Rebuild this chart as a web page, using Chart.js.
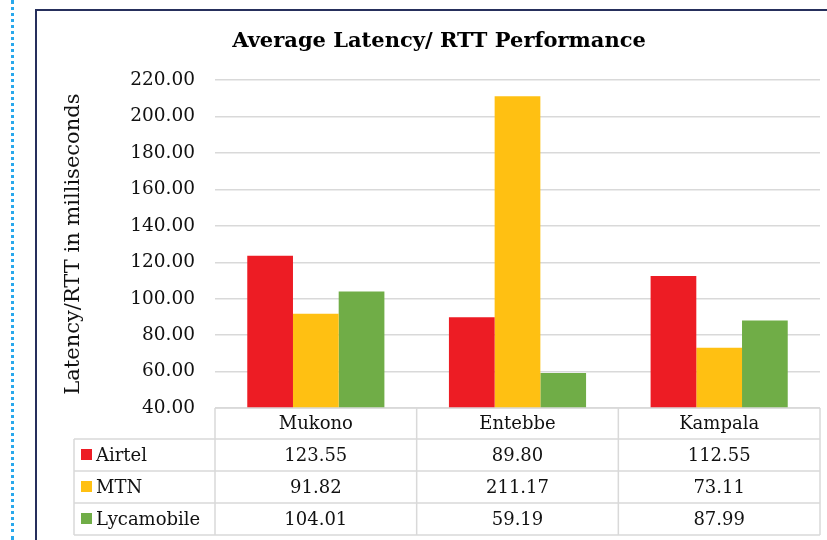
<!DOCTYPE html>
<html>
<head>
<meta charset="utf-8">
<script src="https://cdn.jsdelivr.net/npm/chart.js@4.4.0/dist/chart.umd.min.js"></script>
<style>
  html, body { margin: 0; padding: 0; background: #fff; }
  #wrap { position: relative; width: 827px; height: 540px; overflow: hidden; }
  #dots { position: absolute; left: 11px; top: 0; height: 540px; border-left: 3px dotted #29A8EC; }
  #frame { position: absolute; left: 35px; top: 9px; width: 900px; height: 600px; border-left: 2px solid #262F5C; border-top: 2px solid #262F5C; }
  canvas { position: absolute; left: 0; top: 0; }
</style>
</head>
<body>
<div id="wrap">
  <div id="dots"></div>
  <div id="frame"></div>
  <canvas id="c" width="827" height="540"></canvas>
</div>
<script>
const categories = ["Mukono", "Entebbe", "Kampala"];
const seriesNames = ["Airtel", "MTN", "Lycamobile"];
const airtel = [123.55, 89.80, 112.55];
const mtn = [91.82, 211.17, 73.11];
const lycamobile = [104.01, 59.19, 87.99];
const seriesColors = ["#ED1C24", "#FFC012", "#70AD47"];
const yTicks = { min: 40, max: 220, step: 20 };

const FONT = "'DejaVu Serif', 'Liberation Serif', serif";
const allSeries = [airtel, mtn, lycamobile];

const tablePlugin = {
  id: 'dataTable',
  afterDraw(chart) {
    const ctx = chart.ctx;
    const ca = chart.chartArea;
    const xs = chart.scales.x;
    const n = categories.length;
    const colW = (ca.right - ca.left) / n;
    const headerTop = ca.bottom;
    const headerH = 31;
    const rowH = 32;
    const tableLeft = 74;
    const tableBottom = headerTop + headerH + rowH * seriesNames.length;
    ctx.save();
    ctx.strokeStyle = '#D9D9D9';
    ctx.lineWidth = 1.5;
    ctx.beginPath();
    ctx.moveTo(ca.left, headerTop); ctx.lineTo(ca.right, headerTop);
    for (let r = 0; r <= seriesNames.length; r++) {
      const y = headerTop + headerH + r * rowH;
      ctx.moveTo(tableLeft, y); ctx.lineTo(ca.right, y);
    }
    ctx.moveTo(tableLeft, headerTop + headerH); ctx.lineTo(tableLeft, tableBottom);
    for (let i = 0; i <= n; i++) {
      const x = ca.left + i * colW;
      ctx.moveTo(x, headerTop); ctx.lineTo(x, tableBottom);
    }
    ctx.stroke();

    ctx.fillStyle = '#111';
    ctx.font = '18px ' + FONT;
    ctx.textAlign = 'center';
    ctx.textBaseline = 'middle';
    categories.forEach((c, i) => {
      const x = xs.getPixelForValue(i);
      ctx.fillText(c, x, headerTop + headerH / 2 + 1);
    });
    seriesNames.forEach((s, r) => {
      const yc = headerTop + headerH + r * rowH + rowH / 2;
      ctx.fillStyle = seriesColors[r];
      ctx.fillRect(81, yc - 6, 11, 11);
      ctx.fillStyle = '#111';
      ctx.textAlign = 'left';
      ctx.fillText(s, 96, yc + 1);
      ctx.textAlign = 'center';
      allSeries[r].forEach((v, i) => {
        ctx.fillText(v.toFixed(2), xs.getPixelForValue(i), yc + 1);
      });
    });
    ctx.restore();
  }
};

new Chart(document.getElementById('c'), {
  type: 'bar',
  data: {
    labels: categories,
    datasets: seriesNames.map((name, i) => ({
      label: name,
      data: allSeries[i],
      backgroundColor: seriesColors[i],
      borderWidth: 0,
      categoryPercentage: 0.68,
      barPercentage: 1.0
    }))
  },
  options: {
    responsive: false,
    animation: false,
    layout: { padding: { left: 58, right: 7, top: 0, bottom: 132 } },
    plugins: {
      legend: { display: false },
      tooltip: { enabled: false },
      title: {
        display: true,
        text: 'Average Latency/ RTT Performance',
        color: '#000',
        font: { family: FONT, size: 21, weight: 'bold' },
        padding: { top: 29, bottom: 26 }
      }
    },
    scales: {
      x: { display: false },
      y: {
        min: yTicks.min,
        max: yTicks.max,
        afterFit(scale) { scale.width = 157; },
        ticks: {
          stepSize: yTicks.step,
          color: '#111',
          padding: 20,
          font: { family: FONT, size: 18.5 },
          callback: v => Number(v).toFixed(2)
        },
        grid: { color: '#D9D9D9', lineWidth: 1.5, drawTicks: false },
        border: { display: false },
        title: {
          display: true,
          text: 'Latency/RTT in milliseconds',
          color: '#111',
          font: { family: FONT, size: 21 },
          padding: { top: 3, bottom: 0 }
        }
      }
    }
  },
  plugins: [tablePlugin]
});
</script>
</body>
</html>
